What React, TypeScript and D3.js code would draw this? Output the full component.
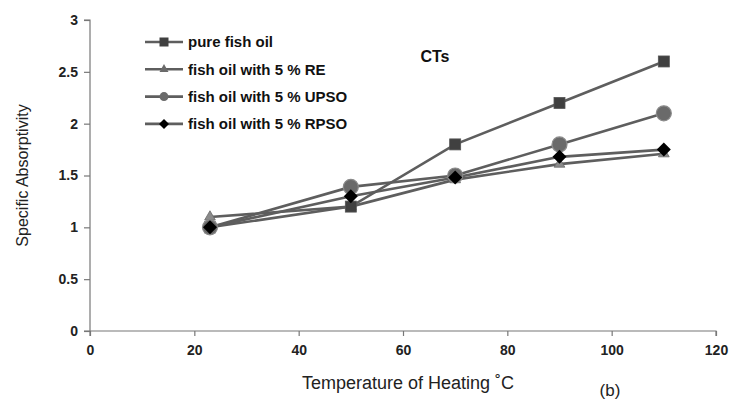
import { useEffect, useRef } from 'react';
import * as d3 from 'd3';

const temps = [23, 50, 70, 90, 110];
const pureFishOil = [1.0, 1.2, 1.8, 2.2, 2.6];
const withRE = [1.1, 1.2, 1.46, 1.61, 1.71];
const withUPSO = [1.0, 1.39, 1.5, 1.8, 2.1];
const withRPSO = [1.0, 1.3, 1.48, 1.68, 1.75];
const seriesNames = ['pure fish oil', 'fish oil with 5 % RE', 'fish oil with 5 % UPSO', 'fish oil with 5 % RPSO'];
const xTicks = [0, 20, 40, 60, 80, 100, 120];
const yTicks = [0, 0.5, 1, 1.5, 2, 2.5, 3];

const width = 729;
const height = 400;
const margin = { left: 90, right: 13, top: 20, bottom: 69 };

const App = () => {
    const svgRef = useRef<SVGSVGElement>(null);

    useEffect(() => {
        const svg = d3.select(svgRef.current);
        svg.selectAll('*').remove();

        const x = d3.scaleLinear().domain([0, 120]).range([margin.left, width - margin.right]);
        const y = d3.scaleLinear().domain([0, 3]).range([height - margin.bottom, margin.top]);

        const font = "'Liberation Sans', Arial, sans-serif";
        const axisColor = '#777';

        // axes
        const xAxis = svg.append('g')
            .attr('transform', `translate(0,${y(0)})`)
            .call(d3.axisBottom(x).tickValues(xTicks).tickSize(5).tickSizeOuter(0).tickPadding(9));
        const yAxis = svg.append('g')
            .attr('transform', `translate(${x(0)},0)`)
            .call(d3.axisLeft(y).tickValues(yTicks).tickSize(6).tickSizeOuter(0).tickPadding(6).tickFormat(d => String(d)));
        [xAxis, yAxis].forEach(a => {
            a.select('.domain').attr('stroke', axisColor).attr('stroke-width', 1.2);
            a.selectAll('.tick line').attr('stroke', axisColor).attr('stroke-width', 1.2);
            a.selectAll('.tick text')
                .attr('fill', '#222')
                .style('font-family', font)
                .style('font-weight', 'bold')
                .style('font-size', '14px');
        });
        xAxis.select('.domain').attr('d', `M${x(0) - 6},0H${x(120)}V5`);
        yAxis.select('.domain').attr('d', `M-6,${y(3)}H0V${y(0) + 5}`);

        const series = [
            { name: seriesNames[0], values: pureFishOil, marker: 'square' },
            { name: seriesNames[1], values: withRE, marker: 'triangle' },
            { name: seriesNames[2], values: withUPSO, marker: 'circle' },
            { name: seriesNames[3], values: withRPSO, marker: 'diamond' },
        ];

        const line = d3.line<number>().x((d, i) => x(temps[i])).y(d => y(d));

        series.forEach(s => {
            svg.append('path')
                .datum(s.values)
                .attr('d', line)
                .attr('fill', 'none')
                .attr('stroke', '#5e5e5e')
                .attr('stroke-width', 2.6);
        });

        const drawMarker = (g: any, marker: string) => {
            if (marker === 'square') {
                g.append('rect').attr('x', -5.5).attr('y', -5.5).attr('width', 11).attr('height', 11)
                    .attr('fill', '#404040').attr('stroke', '#555').attr('stroke-width', 0.8);
            } else if (marker === 'triangle') {
                g.append('path').attr('d', d3.symbol(d3.symbolTriangle, 50)())
                    .attr('fill', '#8a8a8a').attr('stroke', '#6a6a6a').attr('stroke-width', 0.8);
            } else if (marker === 'circle') {
                g.append('circle').attr('r', 7.5)
                    .attr('fill', '#6a6a6a').attr('stroke', '#8a8a8a').attr('stroke-width', 1.2);
            } else {
                g.append('path').attr('d', 'M0,-7L7,0L0,7L-7,0Z').attr('fill', '#000');
            }
        };

        // draw markers: RE first so others sit on top
        [series[1], series[0], series[2], series[3]].forEach(s => {
            s.values.forEach((v, i) => {
                const g = svg.append('g').attr('transform', `translate(${x(temps[i])},${y(v)})`);
                drawMarker(g, s.marker);
            });
        });

        // legend
        const legend = svg.append('g').attr('transform', 'translate(145,42)');
        series.forEach((s, i) => {
            const row = legend.append('g').attr('transform', `translate(0,${i * 27.3})`);
            row.append('line').attr('x1', 0).attr('x2', 38).attr('stroke', '#5e5e5e').attr('stroke-width', 2.6);
            const mg = row.append('g').attr('transform', 'translate(19,0)');
            if (s.marker === 'square') {
                mg.append('rect').attr('x', -4.5).attr('y', -4.5).attr('width', 9).attr('height', 9).attr('fill', '#404040');
            } else if (s.marker === 'triangle') {
                mg.append('path').attr('d', d3.symbol(d3.symbolTriangle, 35)()).attr('fill', '#6a6a6a');
            } else if (s.marker === 'circle') {
                mg.append('circle').attr('r', 4.5).attr('fill', '#6a6a6a');
            } else {
                mg.append('path').attr('d', 'M0,-5L5,0L0,5L-5,0Z').attr('fill', '#000');
            }
            row.append('text')
                .attr('x', 43).attr('y', 0).attr('dy', '0.35em')
                .style('font-family', font).style('font-weight', 'bold').style('font-size', '15px')
                .attr('fill', '#111')
                .text(s.name);
        });

        svg.append('text').attr('x', 435).attr('y', 62).attr('text-anchor', 'middle')
            .style('font-family', font).style('font-weight', 'bold').style('font-size', '16px')
            .attr('fill', '#111').text('CTs');

        svg.append('text')
            .attr('transform', `translate(28,${(y(0) + y(3)) / 2}) rotate(-90)`)
            .attr('text-anchor', 'middle')
            .style('font-family', font).style('font-size', '16px').attr('fill', '#222')
            .text('Specific Absorptivity');

        svg.append('text').attr('x', 408).attr('y', 389).attr('text-anchor', 'middle')
            .style('font-family', font).style('font-size', '18px').attr('fill', '#222')
            .text('Temperature of Heating  ˚C');

        svg.append('text').attr('x', 610).attr('y', 396).attr('text-anchor', 'middle')
            .style('font-family', font).style('font-size', '17px').attr('fill', '#222')
            .text('(b)');
    }, []);

    return (
        <div style={{ position: 'absolute', left: 0, top: 0 }}>
            <svg ref={svgRef} width={width} height={height} style={{ display: 'block', background: '#fff' }} />
        </div>
    );
};

export default App;
